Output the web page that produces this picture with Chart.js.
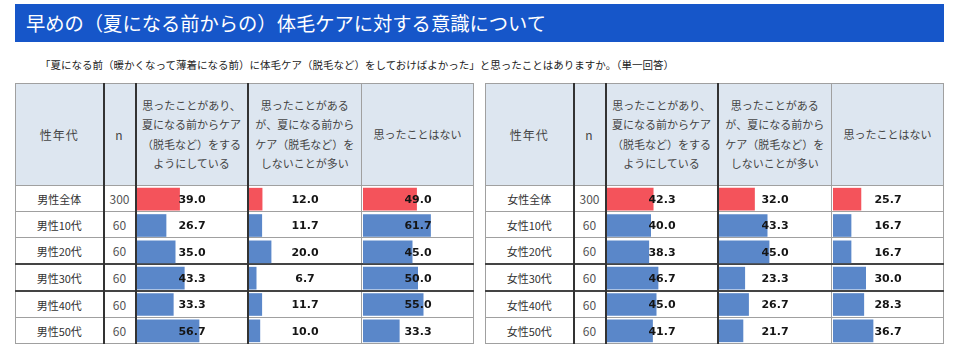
<!DOCTYPE html>
<html>
<head>
<meta charset="utf-8">
<script src="https://cdn.jsdelivr.net/npm/chart.js@4/dist/chart.umd.min.js"></script>
<style>
  body { margin: 0; width: 960px; height: 350px; background: #fff; position: relative; overflow: hidden;
         font-family: "Noto Sans CJK JP", "Noto Sans", sans-serif; }
  #title { position: absolute; left: 15px; top: 4px; width: 929px; height: 38px; background: #1656c9;
           color: #fff; font-size: 19.3px; line-height: 38px; padding-left: 11px; box-sizing: border-box; }
  #sub { position: absolute; left: 40px; top: 57px; font-size: 10.5px; color: #222; white-space: nowrap; }
  table { position: absolute; top: 83px; width: 458px; border-collapse: collapse; table-layout: fixed; }
  td { border: 1px solid #a0a0a0; padding: 0; text-align: center; color: #333; font-size: 11px; }
  tr.head td { background: #dde6f0; height: 101px; line-height: 19.5px; color: #444; }
  tr.head td.big { font-size: 12px; letter-spacing: 1px; }
  tr.row td { height: 25px; }
  tr.dark td { border-top: 2px solid #444; }
  td.g { border-right: 2px solid #333; }
  td.n { color: #555; font-size: 12px; }
  canvas { position: absolute; }
</style>
</head>
<body>
<div id="title">早めの（夏になる前からの）体毛ケアに対する意識について</div>
<div id="sub">「夏になる前（暖かくなって薄着になる前）に体毛ケア（脱毛など）をしておけばよかった」と思ったことはありますか。（単一回答）</div>
<table id="maleTable" style="left:15px"></table>
<table id="femaleTable" style="left:485px"></table>
<script>
// ============================
// Data
// ============================
const maleGroups = ["男性全体", "男性10代", "男性20代", "男性30代", "男性40代", "男性50代"];
const femaleGroups = ["女性全体", "女性10代", "女性20代", "女性30代", "女性40代", "女性50代"];
const sampleSizes = [300, 60, 60, 60, 60, 60];
const answers = [
  "思ったことがあり、<br>夏になる前からケア<br>（脱毛など）をする<br>ようにしている",
  "思ったことがある<br>が、夏になる前から<br>ケア（脱毛など）を<br>しないことが多い",
  "思ったことはない"
];

const maleCareNow = [39.0, 26.7, 35.0, 43.3, 33.3, 56.7];
const maleNoCare = [12.0, 11.7, 20.0, 6.7, 11.7, 10.0];
const maleNever = [49.0, 61.7, 45.0, 50.0, 55.0, 33.3];

const femaleCareNow = [42.3, 40.0, 38.3, 46.7, 45.0, 41.7];
const femaleNoCare = [32.0, 43.3, 45.0, 23.3, 26.7, 21.7];
const femaleNever = [25.7, 16.7, 16.7, 30.0, 28.3, 36.7];

const RED = "#f4535b";
const BLUE = "#5a87c9";

// ============================
// Table markup
// ============================
function buildTable(tableId, groups) {
  const table = document.getElementById(tableId);
  let html = `<colgroup><col style="width:88px"><col style="width:32px"><col style="width:112px"><col style="width:114px"><col style="width:112px"></colgroup>`;
  html += `<tr class="head"><td class="g big">性年代</td><td class="g big">n</td>`;
  html += `<td class="g">${answers[0]}</td><td>${answers[1]}</td><td>${answers[2]}</td></tr>`;
  groups.forEach((g, i) => {
    const cls = i === 3 || i === 4 ? "row dark" : "row";
    html += `<tr class="${cls}"><td class="g">${g}</td><td class="g n">${sampleSizes[i]}</td>`;
    html += `<td class="g bar"></td><td class="bar"></td><td class="bar"></td></tr>`;
  });
  table.innerHTML = html;
}

buildTable("maleTable", maleGroups);
buildTable("femaleTable", femaleGroups);

// ============================
// Value labels (centered in cell)
// ============================
const valueLabels = {
  id: "valueLabels",
  afterDatasetsDraw(chart) {
    const ctx = chart.ctx;
    const area = chart.chartArea;
    const cx = (area.left + area.right) / 2;
    ctx.save();
    ctx.font = "bold 11px 'DejaVu Sans', sans-serif";
    ctx.fillStyle = "#151515";
    ctx.textAlign = "center";
    ctx.textBaseline = "middle";
    chart.getDatasetMeta(0).data.forEach((bar, i) => {
      ctx.fillText(chart.data.datasets[0].data[i].toFixed(1), cx, bar.y + 1);
    });
    ctx.restore();
  }
};

// ============================
// Bar charts over the cells
// ============================
function drawColumn(tableId, colIndex, groups, values) {
  const rows = document.querySelectorAll(`#${tableId} tr.row`);
  const first = rows[0].children[colIndex].getBoundingClientRect();
  const last = rows[rows.length - 1].children[colIndex].getBoundingClientRect();

  const canvas = document.createElement("canvas");
  const w = Math.round(first.width) - 2;
  const h = Math.round(last.bottom - first.top);
  canvas.width = w;
  canvas.height = h;
  canvas.style.left = Math.round(first.left) + 1 + "px";
  canvas.style.top = Math.round(first.top) + "px";
  canvas.style.width = w + "px";
  canvas.style.height = h + "px";
  document.body.appendChild(canvas);

  new Chart(canvas, {
    type: "bar",
    data: {
      labels: groups,
      datasets: [
        {
          data: values,
          backgroundColor: values.map((_, i) => (i === 0 ? RED : BLUE)),
          barPercentage: 0.86,
          categoryPercentage: 1
        }
      ]
    },
    options: {
      indexAxis: "y",
      responsive: false,
      animation: false,
      events: [],
      layout: { padding: 0 },
      plugins: { legend: { display: false }, tooltip: { enabled: false } },
      scales: {
        x: { display: false, min: 0, max: 100 },
        y: { display: false }
      }
    },
    plugins: [valueLabels]
  });
}

drawColumn("maleTable", 2, maleGroups, maleCareNow);
drawColumn("maleTable", 3, maleGroups, maleNoCare);
drawColumn("maleTable", 4, maleGroups, maleNever);
drawColumn("femaleTable", 2, femaleGroups, femaleCareNow);
drawColumn("femaleTable", 3, femaleGroups, femaleNoCare);
drawColumn("femaleTable", 4, femaleGroups, femaleNever);
</script>
</body>
</html>
